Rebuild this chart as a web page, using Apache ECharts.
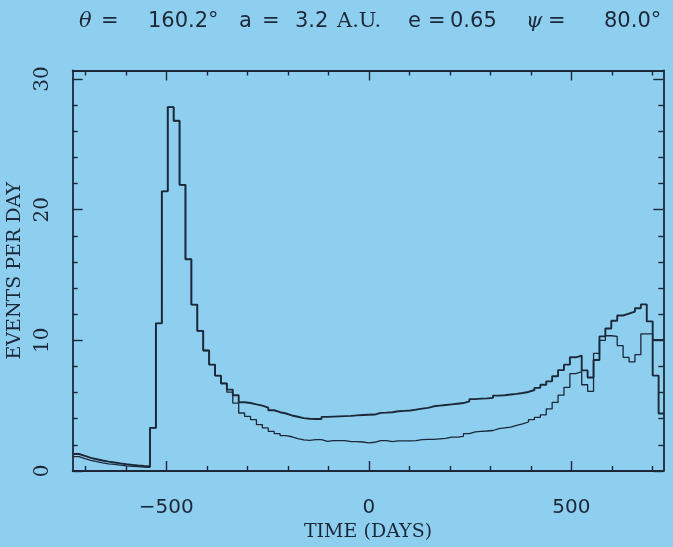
<!DOCTYPE html>
<html>
<head>
<meta charset="utf-8">
<script src="https://cdn.jsdelivr.net/npm/echarts@6/dist/echarts.min.js"></script>
<style>
html,body{margin:0;padding:0;background:#8ecff0;}
#chart{width:673px;height:547px;}
</style>
</head>
<body>
<div id="chart"></div>
<script>
// ---- data ----
const binStart = -730;          // days, left edge of first bin
const binWidth = 14.6;          // days per bin (100 bins)
const upperValues = [
  1.3, 1.15, 1.0, 0.9, 0.8, 0.72, 0.65, 0.58, 0.52, 0.47, 0.42, 0.38, 0.35,
  3.3, 11.3, 21.4, 27.85, 26.8, 21.9, 16.2, 12.73, 10.72, 9.22,
  8.14, 7.3, 6.7, 6.23, 5.8, 5.26, 5.2, 5.1, 5.0, 4.85,
  4.65, 4.5, 4.4, 4.25, 4.15, 4.05, 4.0, 3.98, 3.98, 4.14,
  4.16, 4.18, 4.2, 4.22, 4.26, 4.28, 4.3, 4.32, 4.45, 4.47,
  4.5, 4.57, 4.6, 4.63, 4.7, 4.77, 4.83, 4.95, 5.0, 5.05,
  5.1, 5.15, 5.2, 5.33, 5.5, 5.54, 5.56, 5.6, 5.77, 5.8,
  5.85, 5.9, 5.97, 6.05, 6.2, 6.36, 6.6, 6.86, 7.25, 7.72,
  8.14, 8.7, 8.83, 7.7, 7.15, 8.5, 10.3, 10.9, 11.5, 11.9,
  12.05, 12.2, 12.45, 12.75, 11.45, 7.3, 4.4
];
const lowerValues = [
  1.1, 0.95, 0.82, 0.72, 0.63, 0.55, 0.5, 0.45, 0.4, 0.36, 0.33, 0.3, 0.28,
  3.3, 11.3, 21.4, 27.85, 26.8, 21.9, 16.2, 12.73, 10.72, 9.22,
  8.14, 7.3, 6.7, 6.03, 5.2, 4.44, 4.18, 3.93, 3.55, 3.3,
  3.04, 2.86, 2.7, 2.62, 2.48, 2.38, 2.35, 2.4, 2.4, 2.27,
  2.33, 2.33, 2.32, 2.25, 2.25, 2.22, 2.15, 2.2, 2.33, 2.33,
  2.25, 2.3, 2.3, 2.3, 2.33, 2.4, 2.42, 2.42, 2.46, 2.5,
  2.6, 2.6, 2.65, 2.86, 3.0, 3.04, 3.06, 3.1, 3.25, 3.3,
  3.35, 3.5, 3.6, 3.75, 3.93, 4.1, 4.3, 4.75, 5.25, 5.8,
  6.4, 7.45, 7.6, 6.6, 6.1, 9.0, 10.0, 10.35, 10.3, 9.6,
  8.7, 8.35, 8.9, 10.5, 10.5, 10.05, 10.05
];
const xMajorTicks = [-500, 0, 500];
const xMinorTicks = [-700, -600, -400, -300, -200, -100, 100, 200, 300, 400, 600, 700];
const yMajorTicks = [0, 10, 20, 30];
const yMinorTicks = [2, 4, 6, 8, 12, 14, 16, 18, 22, 24, 26, 28];
const xMin = -731, xMax = 727;
const yMin = 0, yMax = 30.65;

// ---- styles ----
const ink = '#1c2838';
const bg = '#8ecff0';

function histPoints(values) {
  const pts = values.map((v, k) => [binStart + k * binWidth, v]);
  pts.push([binStart + values.length * binWidth, values[values.length - 1]]);
  return pts;
}

function xAx(position, ticks, len, showLine, labels) {
  return {
    type: 'value', position: position, min: xMin, max: xMax,
    axisLine: {show: showLine, onZero: false, lineStyle: {color: ink, width: 1.8}},
    axisTick: {show: true, inside: true, length: len, customValues: ticks, lineStyle: {color: ink, width: 1.4}},
    axisLabel: labels ? {
      show: true, customValues: ticks, margin: 27, color: ink,
      fontFamily: 'DejaVu Sans', fontSize: 20,
      formatter: v => String(v).replace('-', '\u2212')
    } : {show: false},
    splitLine: {show: false}
  };
}
function yAx(position, ticks, len, showLine, labels) {
  return {
    type: 'value', position: position, min: yMin, max: yMax,
    axisLine: {show: showLine, onZero: false, lineStyle: {color: ink, width: 1.8}},
    axisTick: {show: true, inside: true, length: len, customValues: ticks, lineStyle: {color: ink, width: 1.4}},
    axisLabel: labels ? {
      show: true, customValues: ticks, margin: 20, rotate: 90, color: ink,
      fontFamily: 'DejaVu Serif', fontSize: 20
    } : {show: false},
    splitLine: {show: false}
  };
}

const xAxes = [
  Object.assign(xAx('bottom', xMajorTicks, 10, true, true), {
    name: 'TIME (DAYS)', nameLocation: 'middle', nameGap: 48,
    nameTextStyle: {color: ink, fontFamily: 'DejaVu Serif', fontSize: 19}
  }),
  xAx('bottom', xMinorTicks, 5, false, false),
  xAx('top', xMajorTicks, 10, true, false),
  xAx('top', xMinorTicks, 5, false, false)
];
const yAxes = [
  Object.assign(yAx('left', yMajorTicks, 10, true, true), {
    name: 'EVENTS PER DAY', nameLocation: 'middle', nameGap: 42,
    nameTextStyle: {color: ink, fontFamily: 'DejaVu Serif', fontSize: 19}
  }),
  yAx('left', yMinorTicks, 5, false, false),
  yAx('right', yMajorTicks, 10, true, false),
  yAx('right', yMinorTicks, 5, false, false)
];

function titleText(x, text, font) {
  return {type: 'text', left: x, top: 11, silent: true,
          style: {text: text, font: font, fill: ink}};
}
const sans = '21px "DejaVu Sans"';
const serif = '21px "DejaVu Serif"';
const serifIt = 'italic 21px "DejaVu Serif"';

const chart = echarts.init(document.getElementById('chart'), null, {renderer: 'canvas'});
chart.setOption({
  animation: false,
  backgroundColor: bg,
  grid: {left: 72.7, right: 9.7, top: 70.5, bottom: 76, containLabel: false, outerBoundsMode: 'none'},
  xAxis: xAxes,
  yAxis: yAxes,
  graphic: [
    titleText(79, '\u03b8', serifIt),
    titleText(101, '=', sans),
    titleText(148, '160.2\u00b0', sans),
    titleText(239, 'a', sans),
    titleText(262, '=', sans),
    titleText(295, '3.2', sans),
    titleText(337, 'A.U.', serif),
    titleText(408, 'e', sans),
    titleText(428, '=', sans),
    titleText(450, '0.65', sans),
    titleText(526, '\u03c8', serifIt),
    titleText(548, '=', sans),
    titleText(604, '80.0\u00b0', sans)
  ],
  series: [
    {type: 'line', step: 'end', xAxisIndex: 0, yAxisIndex: 0, data: histPoints(lowerValues),
     showSymbol: false, symbol: 'none', lineStyle: {color: ink, width: 1.3}, z: 3},
    {type: 'line', step: 'end', xAxisIndex: 0, yAxisIndex: 0, data: histPoints(upperValues),
     showSymbol: false, symbol: 'none', lineStyle: {color: ink, width: 1.9}, z: 4}
  ]
});
</script>
</body>
</html>
